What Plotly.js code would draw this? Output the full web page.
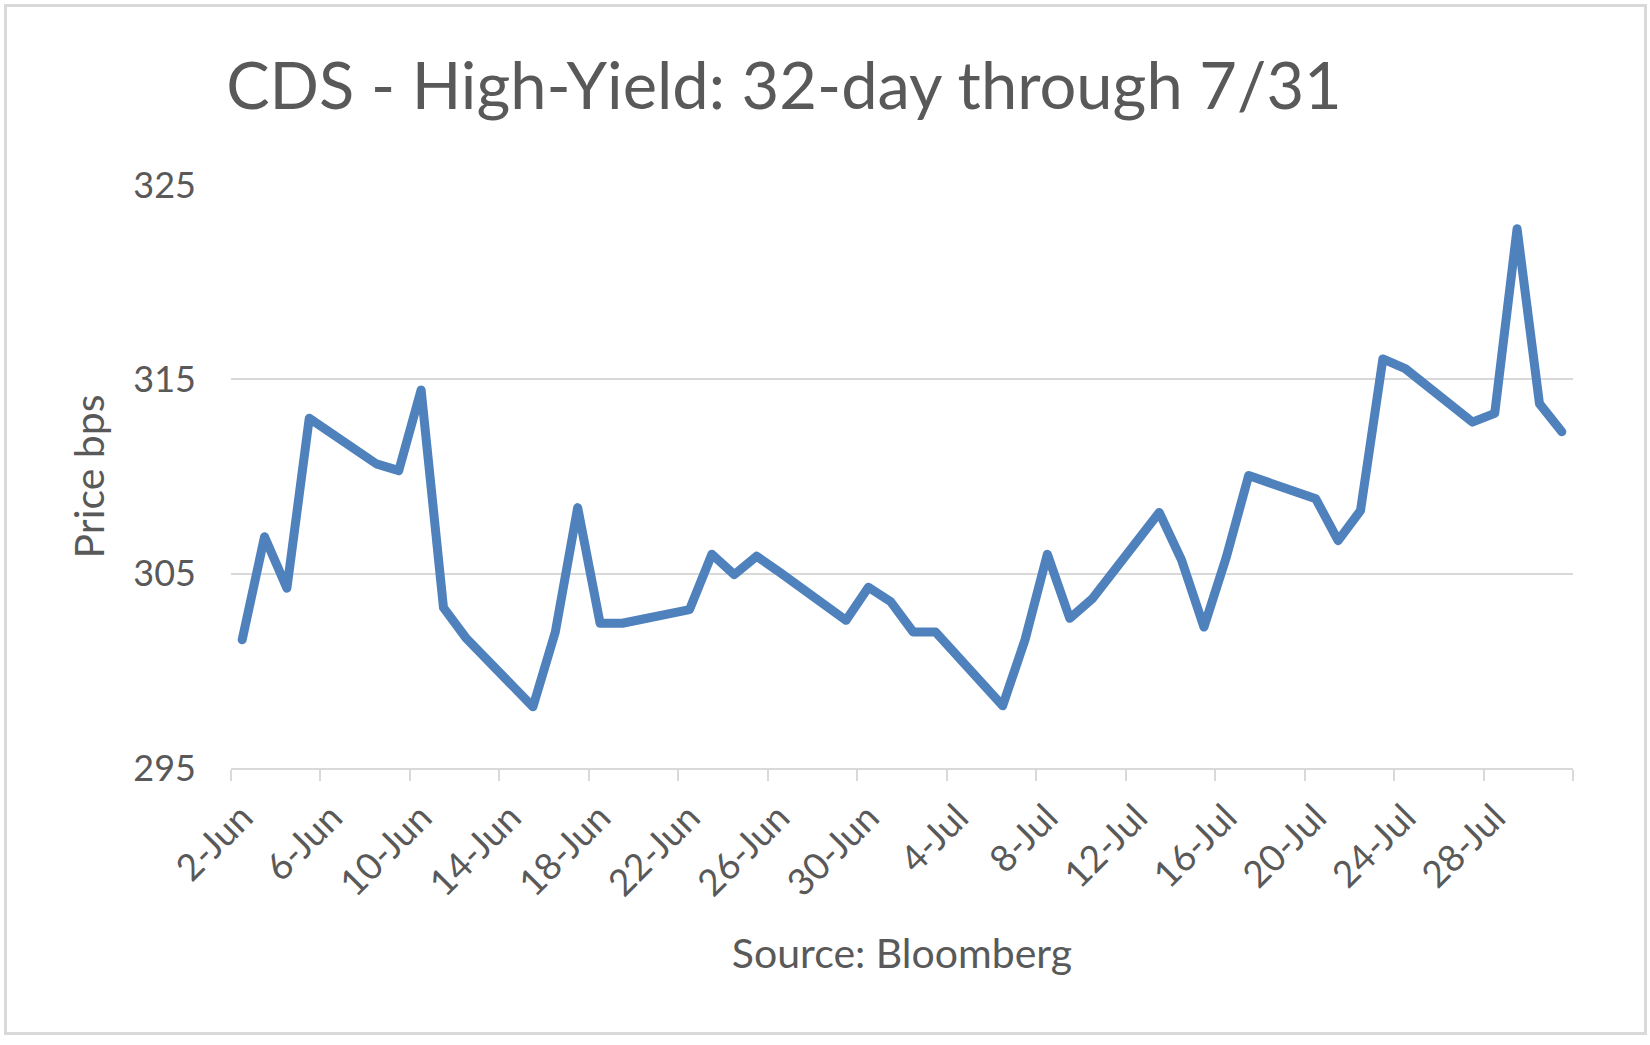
<!DOCTYPE html>
<html>
<head>
<meta charset="utf-8">
<script src="https://cdn.plot.ly/plotly-3.0.1.min.js"></script>
<style>
  body { margin: 0; background: #fff; }
  #wrap { position: relative; width: 1650px; height: 1045px; }
  #chart { width: 1650px; height: 1045px; }
  #frame {
    position: absolute; left: 4px; top: 4px; width: 1643px; height: 1031px;
    box-sizing: border-box; border: 3px solid #d9d9d9; pointer-events: none;
  }
  .js-line { stroke-linejoin: round !important; stroke-linecap: round !important; }
</style>
</head>
<body>
<div id="wrap">
  <div id="chart"></div>
  <div id="frame"></div>
</div>
<script>
// trading days, June 2 - July 31 2020
const dates = [
  '2020-06-02', '2020-06-03', '2020-06-04', '2020-06-05',
  '2020-06-08', '2020-06-09', '2020-06-10', '2020-06-11', '2020-06-12',
  '2020-06-15', '2020-06-16', '2020-06-17', '2020-06-18', '2020-06-19',
  '2020-06-22', '2020-06-23', '2020-06-24', '2020-06-25', '2020-06-26',
  '2020-06-29', '2020-06-30', '2020-07-01', '2020-07-02', '2020-07-03',
  '2020-07-06', '2020-07-07', '2020-07-08', '2020-07-09', '2020-07-10',
  '2020-07-13', '2020-07-14', '2020-07-15', '2020-07-16', '2020-07-17',
  '2020-07-20', '2020-07-21', '2020-07-22', '2020-07-23', '2020-07-24',
  '2020-07-27', '2020-07-28', '2020-07-29', '2020-07-30', '2020-07-31'
];

// CDS price, bps
const price = [
  301.6, 306.9, 304.25, 313.0,
  310.65, 310.3, 314.45, 303.25, 301.7,
  298.15, 302.0, 308.4, 302.45, 302.45,
  303.15, 306.0, 304.95, 305.9, 305.1,
  302.6, 304.3, 303.55, 302.0, 302.0,
  298.2, 301.6, 306.0, 302.7, 303.7,
  308.15, 305.7, 302.25, 305.85, 310.05,
  308.85, 306.7, 308.25, 316.05, 315.55,
  312.8, 313.25, 322.75, 313.75, 312.3
];

// x axis: a tick every 4 days, the last one closes the axis
const tickDates = [
  '2020-06-02', '2020-06-06', '2020-06-10', '2020-06-14', '2020-06-18',
  '2020-06-22', '2020-06-26', '2020-06-30', '2020-07-04', '2020-07-08',
  '2020-07-12', '2020-07-16', '2020-07-20', '2020-07-24', '2020-07-28',
  '2020-08-01'
];
const tickLabels = [
  '2-Jun', '6-Jun', '10-Jun', '14-Jun', '18-Jun',
  '22-Jun', '26-Jun', '30-Jun', '4-Jul', '8-Jul',
  '12-Jul', '16-Jul', '20-Jul', '24-Jul', '28-Jul',
  ''
];

const yTicks = [295, 305, 315, 325];

// ticks sit on the day boundaries (half a day before each date)
function halfDayBefore(d) {
  const t = new Date(d + 'T00:00:00Z').getTime() - 12 * 3600 * 1000;
  return new Date(t).toISOString().slice(0, 19).replace('T', ' ');
}

const textColor = '#595959';
const gridColor = '#d9d9d9';
const font = 'Lato, "Open Sans", sans-serif';

const trace = {
  x: dates,
  y: price,
  type: 'scatter',
  mode: 'lines',
  line: { color: '#4f81bd', width: 9 },
  hoverinfo: 'x+y'
};

const layout = {
  width: 1650,
  height: 1045,
  margin: { l: 231, r: 77, t: 185, b: 277 },
  paper_bgcolor: '#fff',
  plot_bgcolor: '#fff',
  showlegend: false,
  font: { family: font, color: textColor },
  title: {
    text: 'CDS - High-Yield: 32-day through 7/31',
    font: { family: font, size: 65, color: textColor },
    xref: 'container', x: 784 / 1650, xanchor: 'center',
    yref: 'container', y: 1 - 86 / 1045, yanchor: 'middle'
  },
  xaxis: {
    type: 'date',
    range: [halfDayBefore(dates[0]), halfDayBefore('2020-08-01')],
    tickvals: tickDates.map(halfDayBefore),
    ticktext: tickLabels,
    tickangle: -45,
    ticklabelshift: 11,
    ticks: 'outside',
    ticklen: 11,
    tickwidth: 2,
    tickcolor: gridColor,
    showline: true,
    linecolor: gridColor,
    linewidth: 2,
    showgrid: false,
    zeroline: false,
    tickfont: { family: font, size: 37, color: textColor },
    title: {
      text: 'Source: Bloomberg',
      font: { family: font, size: 41, color: textColor },
      standoff: 36
    },
    fixedrange: true
  },
  yaxis: {
    range: [295, 325],
    tickvals: yTicks,
    ticks: '',
    showline: false,
    showgrid: true,
    gridcolor: gridColor,
    gridwidth: 2,
    zeroline: false,
    ticklabelstandoff: 34,
    tickfont: { family: font, size: 36, color: textColor },
    title: {
      text: 'Price bps',
      font: { family: font, size: 41, color: textColor },
      standoff: 16
    },
    fixedrange: true
  }
};

Plotly.newPlot('chart', [trace], layout, { displayModeBar: false });
</script>
</body>
</html>
